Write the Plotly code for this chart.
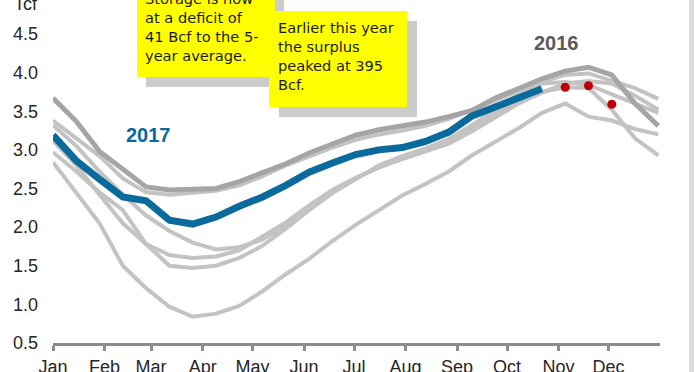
import pandas as pd
import plotly.graph_objects as go

# Month tick labels and the biweekly sampling dates (plotted on one calendar year)
months = ["Jan", "Feb", "Mar", "Apr", "May", "Jun", "Jul", "Aug", "Sep", "Oct", "Nov", "Dec"]
weeks = pd.date_range("2017-01-01", periods=27, freq="14D")

# Working gas in storage, Tcf
s2011 = [3.12, 2.80, 2.42, 2.05, 1.78, 1.64, 1.60, 1.62, 1.70, 1.88, 2.06, 2.28, 2.48, 2.64,
         2.77, 2.88, 2.98, 3.08, 3.24, 3.42, 3.60, 3.74, 3.86, 3.89, 3.86, 3.70, 3.52]
s2012 = [3.38, 3.15, 2.92, 2.63, 2.45, 2.42, 2.44, 2.47, 2.54, 2.66, 2.80, 2.92, 3.03, 3.13,
         3.20, 3.25, 3.31, 3.40, 3.52, 3.64, 3.76, 3.86, 3.88, 3.84, 3.72, 3.60, 3.48]
s2013 = [3.32, 3.05, 2.72, 2.42, 2.15, 1.95, 1.80, 1.71, 1.74, 1.84, 2.02, 2.25, 2.45, 2.63,
         2.78, 2.90, 3.00, 3.12, 3.28, 3.47, 3.63, 3.75, 3.81, 3.80, 3.52, 3.15, 2.93]
s2014 = [2.84, 2.45, 2.05, 1.50, 1.21, 0.97, 0.84, 0.88, 0.98, 1.17, 1.39, 1.59, 1.82, 2.03,
         2.22, 2.41, 2.56, 2.72, 2.93, 3.11, 3.28, 3.48, 3.60, 3.43, 3.38, 3.27, 3.20]
s2015 = [2.97, 2.72, 2.45, 2.22, 1.78, 1.50, 1.47, 1.50, 1.60, 1.76, 1.98, 2.22, 2.44, 2.62,
         2.80, 2.92, 3.02, 3.14, 3.32, 3.52, 3.72, 3.88, 3.97, 3.99, 3.90, 3.80, 3.66]
s2016 = [3.67, 3.37, 2.98, 2.74, 2.52, 2.48, 2.49, 2.50, 2.59, 2.70, 2.82, 2.96, 3.08, 3.19,
         3.26, 3.31, 3.36, 3.43, 3.51, 3.67, 3.79, 3.92, 4.02, 4.07, 3.97, 3.60, 3.31]
s2017 = [3.19, 2.86, 2.62, 2.39, 2.34, 2.09, 2.04, 2.13, 2.27, 2.39, 2.54, 2.71, 2.83, 2.94,
         3.00, 3.03, 3.11, 3.23, 3.44, 3.55, 3.67, 3.79]
# Projected levels for the rest of 2017
proj2017 = [3.81, 3.83, 3.59]

LIGHT = "#c3c3c3"
DARK = "#a5a5a5"
BLUE = "#0a6a9c"
RED = "#c00000"
AXIS = "#8c8c8c"
TICK_FONT = dict(family="Liberation Sans, Arial, sans-serif", size=18, color="#262626")
NOTE_FONT = dict(family="Comic Sans MS, DejaVu Sans, sans-serif", size=14.6, color="#1a1a1a")

fig = go.Figure()
for series in (s2011, s2012, s2013, s2014, s2015):
    fig.add_trace(go.Scatter(x=weeks, y=series, mode="lines",
                             line=dict(color=LIGHT, width=4), hoverinfo="skip"))
fig.add_trace(go.Scatter(x=weeks, y=s2016, mode="lines",
                         line=dict(color=DARK, width=5), hoverinfo="skip"))
fig.add_trace(go.Scatter(x=weeks[:len(s2017)], y=s2017, mode="lines",
                         line=dict(color=BLUE, width=7), hoverinfo="skip"))
fig.add_trace(go.Scatter(x=weeks[len(s2017):len(s2017) + len(proj2017)], y=proj2017,
                         mode="markers", marker=dict(color=RED, size=9), hoverinfo="skip"))

# Plot area spans 53..660 px horizontally and 0..343 px vertically
L, R, T, B = 53, 34, 0, 29
W, H = 694, 372
PW, PH = W - L - R, H - T - B


def px(x):
    return (x - L) / PW


def py(y):
    return (H - B - y) / PH


shapes = []


def box(x0, y0, x1, y1, color):
    shapes.append(dict(type="rect", xref="paper", yref="paper",
                       x0=px(x0), x1=px(x1), y0=py(y1), y1=py(y0),
                       line=dict(width=0), fillcolor=color, layer="above"))


# Callout boxes with drop shadows
box(146, -10, 284, 87, "#cccccc")
box(137, -10, 275, 77, "#ffff00")
box(279, 21, 417, 117, "#cccccc")
box(269, 11, 407, 107, "#ffff00")
# Slide edge on the right
box(689, -5, 700, 380, "#dcdcdc")

annotations = [
    dict(text="Storage is now<br>at a deficit of<br>41 Bcf to the 5-<br>year average.",
         x=px(143), y=py(26.5), xanchor="left", yanchor="middle", align="left"),
    dict(text="Earlier this year<br>the surplus<br>peaked at 395<br>Bcf.",
         x=px(276), y=py(56), xanchor="left", yanchor="middle", align="left"),
]
for a in annotations:
    a.update(xref="paper", yref="paper", showarrow=False, font=NOTE_FONT)

annotations += [
    dict(text="Tcf", x=px(12), y=py(4), xanchor="left", yanchor="middle",
         xref="paper", yref="paper", showarrow=False, font=TICK_FONT),
    dict(text="<b>2017</b>", x=px(148), y=py(135), xanchor="center", yanchor="middle",
         xref="paper", yref="paper", showarrow=False,
         font=dict(family="Liberation Sans, Arial, sans-serif", size=20, color=BLUE)),
    dict(text="<b>2016</b>", x=px(556), y=py(43), xanchor="center", yanchor="middle",
         xref="paper", yref="paper", showarrow=False,
         font=dict(family="Liberation Sans, Arial, sans-serif", size=20, color="#595959")),
]

month_starts = pd.date_range("2017-01-01", periods=12, freq="MS")

fig.update_layout(
    width=W, height=H,
    margin=dict(l=L, r=R, t=T, b=B),
    paper_bgcolor="white", plot_bgcolor="white",
    showlegend=False,
    shapes=shapes,
    annotations=annotations,
    xaxis=dict(range=["2017-01-01", "2018-01-01"], tickvals=month_starts, ticktext=months,
               showgrid=False, zeroline=False, showline=True, linecolor=AXIS, linewidth=3,
               ticks="outside", ticklen=5, tickwidth=3, tickcolor=AXIS,
               tickfont=TICK_FONT, ticklabelstandoff=0, automargin=False),
    yaxis=dict(range=[0.5, 0.5 + PH / 77.25], tickvals=[0.5, 1.0, 1.5, 2.0, 2.5, 3.0, 3.5, 4.0, 4.5],
               tickformat=".1f", showgrid=False, zeroline=False, showline=False,
               ticks="", tickfont=TICK_FONT, ticklabelstandoff=14, automargin=False),
)

fig.write_html("out.html")
